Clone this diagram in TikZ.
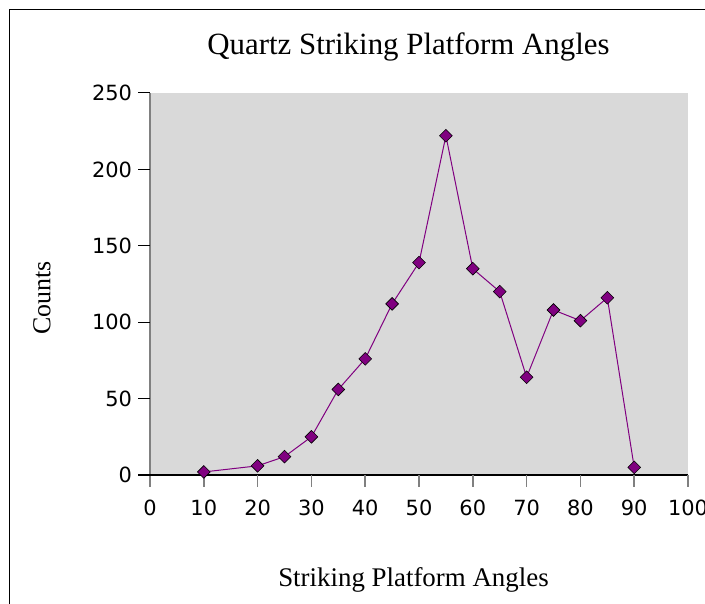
\documentclass[tikz,border=0pt]{standalone}
\usepackage{fontspec}
\setmainfont{Liberation Serif}
\newfontfamily\ticksfont{DejaVu Sans}
\usetikzlibrary{shapes.geometric}

\definecolor{plotgray}{RGB}{217,217,217}
\definecolor{axisgray}{RGB}{128,128,128}
\definecolor{markpurple}{RGB}{128,0,128}

\tikzset{
  datapt/.style={draw=black, fill=markpurple, shape=diamond, inner sep=0pt, minimum size=13bp, line width=0.6bp},
  ylab/.style={anchor=east, font=\ticksfont\fontsize{21}{21}\selectfont, inner sep=0pt},
  xlab/.style={anchor=north, font=\ticksfont\fontsize{21}{21}\selectfont, inner sep=0pt}
}

\begin{document}
\begin{tikzpicture}[x=1bp,y=-1bp]
\useasboundingbox (0,0) rectangle (705,604);

% frame, cut at right and bottom
\draw[line width=1.3bp] (9.5,604) -- (9.5,9.5) -- (705,9.5);

\node (title) at (408.5,47) {\fontsize{31}{31}\selectfont Quartz Striking Platform Angles};
\node[rotate=90] (ytitle) at (42,298) {\fontsize{26}{26}\selectfont Counts};
\node (xtitle) at (413.5,580) {\fontsize{27}{27}\selectfont Striking Platform Angles};

\begin{scope}[shift={(150,475)}, x=5.38bp, y=1.528bp]
\fill[plotgray] (0,0) rectangle (100,250);

\draw[axisgray, line width=1.5bp] (0,250) -- (0,-8);
\draw[line width=1.3bp] (-2.2,0) -- (100,0);

% y ticks
\draw[line width=1bp] (-2.2,50) -- (0,50);
\draw[line width=1bp] (-2.2,100) -- (0,100);
\draw[line width=1bp] (-2.2,150) -- (0,150);
\draw[line width=1bp] (-2.2,200) -- (0,200);
\draw[line width=1bp] (-2.2,250) -- (0,250);
\node[ylab] (y0) at (-3.3,0) {0};
\node[ylab] (y50) at (-3.3,50) {50};
\node[ylab] (y100) at (-3.3,100) {100};
\node[ylab] (y150) at (-3.3,150) {150};
\node[ylab] (y200) at (-3.3,200) {200};
\node[ylab] (y250) at (-3.3,250) {250};

% x ticks
\draw[axisgray, line width=1.5bp] (10,0) -- (10,-8);
\draw[axisgray, line width=1.5bp] (20,0) -- (20,-8);
\draw[axisgray, line width=1.5bp] (30,0) -- (30,-8);
\draw[axisgray, line width=1.5bp] (40,0) -- (40,-8);
\draw[axisgray, line width=1.5bp] (50,0) -- (50,-8);
\draw[axisgray, line width=1.5bp] (60,0) -- (60,-8);
\draw[axisgray, line width=1.5bp] (70,0) -- (70,-8);
\draw[axisgray, line width=1.5bp] (80,0) -- (80,-8);
\draw[axisgray, line width=1.5bp] (90,0) -- (90,-8);
\draw[axisgray, line width=1.5bp] (100,0) -- (100,-8);
\node[xlab] (x0) at (0,-16.3) {0};
\node[xlab] (x10) at (10,-16.3) {10};
\node[xlab] (x20) at (20,-16.3) {20};
\node[xlab] (x30) at (30,-16.3) {30};
\node[xlab] (x40) at (40,-16.3) {40};
\node[xlab] (x50) at (50,-16.3) {50};
\node[xlab] (x60) at (60,-16.3) {60};
\node[xlab] (x70) at (70,-16.3) {70};
\node[xlab] (x80) at (80,-16.3) {80};
\node[xlab] (x90) at (90,-16.3) {90};
\node[xlab] (x100) at (100,-16.3) {100};

% data
\coordinate (p10) at (10,2);
\coordinate (p20) at (20,6);
\coordinate (p25) at (25,12);
\coordinate (p30) at (30,25);
\coordinate (p35) at (35,56);
\coordinate (p40) at (40,76);
\coordinate (p45) at (45,112);
\coordinate (p50) at (50,139);
\coordinate (p55) at (55,222);
\coordinate (p60) at (60,135);
\coordinate (p65) at (65,120);
\coordinate (p70) at (70,64);
\coordinate (p75) at (75,108);
\coordinate (p80) at (80,101);
\coordinate (p85) at (85,116);
\coordinate (p90) at (90,5);

\draw[markpurple, line width=1bp] (p10) -- (p20) -- (p25) -- (p30) -- (p35) -- (p40) -- (p45) -- (p50) -- (p55) -- (p60) -- (p65) -- (p70) -- (p75) -- (p80) -- (p85) -- (p90);

\node[datapt] (m10) at (p10) {};
\node[datapt] (m20) at (p20) {};
\node[datapt] (m25) at (p25) {};
\node[datapt] (m30) at (p30) {};
\node[datapt] (m35) at (p35) {};
\node[datapt] (m40) at (p40) {};
\node[datapt] (m45) at (p45) {};
\node[datapt] (m50) at (p50) {};
\node[datapt] (m55) at (p55) {};
\node[datapt] (m60) at (p60) {};
\node[datapt] (m65) at (p65) {};
\node[datapt] (m70) at (p70) {};
\node[datapt] (m75) at (p75) {};
\node[datapt] (m80) at (p80) {};
\node[datapt] (m85) at (p85) {};
\node[datapt] (m90) at (p90) {};
\end{scope}

\end{tikzpicture}
\end{document}
